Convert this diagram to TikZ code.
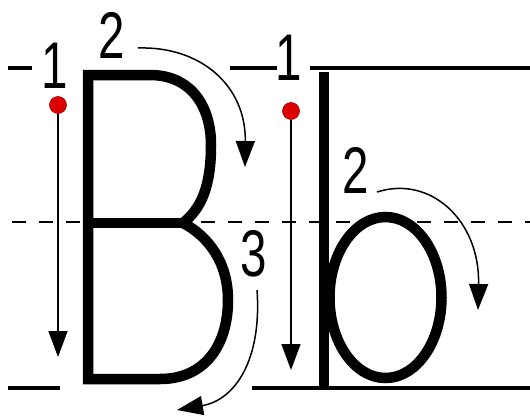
\documentclass[tikz,border=0pt]{standalone}
\usepackage{fontspec}
\setsansfont{Liberation Sans}
\usepackage{xcolor}
\usetikzlibrary{arrows.meta}

\definecolor{dotred}{RGB}{221,0,0}

\begin{document}
\begin{tikzpicture}[
			x=1pt,y=-1pt,
			>=Latex,
			guide/.style={
				line width=3.2pt
			},
			midguide/.style={
				line width=1.8pt,
				dash pattern=on 14pt off 13pt,
				dash phase=-2pt
			},
			letter/.style={
				line width=10.5pt,
				line join=miter
			},
			stroke/.style={
				-{Triangle[length=26pt,width=19pt]},
				line width=1.5pt
			},
			startdot/.style={
				circle,
				minimum size=17pt,
				inner sep=0pt,
				fill=dotred,
				draw=dotred!70!black,
				line width=0.6pt
			},
			num/.style={
				inner sep=0pt,
				xscale=0.72,
				font=\sffamily\fontsize{66}{66}\selectfont
			}
			]
			
			\useasboundingbox (0,0) rectangle (530,418);
			
			%=====================================================================
			% Writing lines
			%=====================================================================
			
			\draw[guide] (8,68) -- (32,68);
			\draw[guide] (230,68) -- (277,68);
			\draw[guide] (310,68) -- (530,68);
			
			\draw[midguide] (10,222) -- (530,222);
			
			\draw[guide] (8,388) -- (60,388);
			\draw[guide] (252,388) -- (530,388);
			
			%=====================================================================
			% Letters
			%=====================================================================
			
			% capital B
			\draw[letter]
			(183,223)
			.. controls (208,236) and (228,262) .. (228,300)
			.. controls (228,345) and (205,379) .. (160,379)
			-- (88,379) -- (88,75) -- (150,75)
			.. controls (190,75) and (211,105) .. (211,145)
			.. controls (211,185) and (202,208) .. (183,223);
			\draw[letter] (88,223) -- (183,223);
			
			% small b
			\draw[letter] (324,72) -- (324,388);
			\draw[letter] (385.5,297.5) ellipse [x radius=56, y radius=80.5];
			
			%=====================================================================
			% Stroke order
			%=====================================================================
			
			\node[startdot] (dotB) at (58,105) {};
			\node[startdot] (dotb) at (291,111) {};
			
			\coordinate (tipB1) at (58,357);
			\coordinate (tipb1) at (291,370);
			
			\coordinate (startB2) at (138,48);
			\coordinate (tipB2) at (245,167);
			\coordinate (startB3) at (257,290);
			\coordinate (tipB3) at (177,410);
			\coordinate (startb2) at (377,192);
			\coordinate (tipb2) at (478,310);
			
			\draw[stroke] (dotB) -- (tipB1);
			\draw[stroke] (dotb) -- (tipb1);
			
			\draw[stroke]
			(startB2)
			.. controls (200,46) and (246,85) ..
			(tipB2);
			
			\draw[stroke]
			(startB3)
			.. controls (262,360) and (235,400) ..
			(tipB3);
			
			\draw[stroke]
			(startb2)
			.. controls (430,175) and (480,220) ..
			(tipb2);
			
			\node[num] (numB1) at (55,66) {1};
			\node[num] (numB2) at (111.5,35) {2};
			\node[num] (numB3) at (253.5,254) {3};
			\node[num] (numb1) at (289,58) {1};
			\node[num] (numb2) at (355.5,170) {2};
			
		\end{tikzpicture}
\end{document}
